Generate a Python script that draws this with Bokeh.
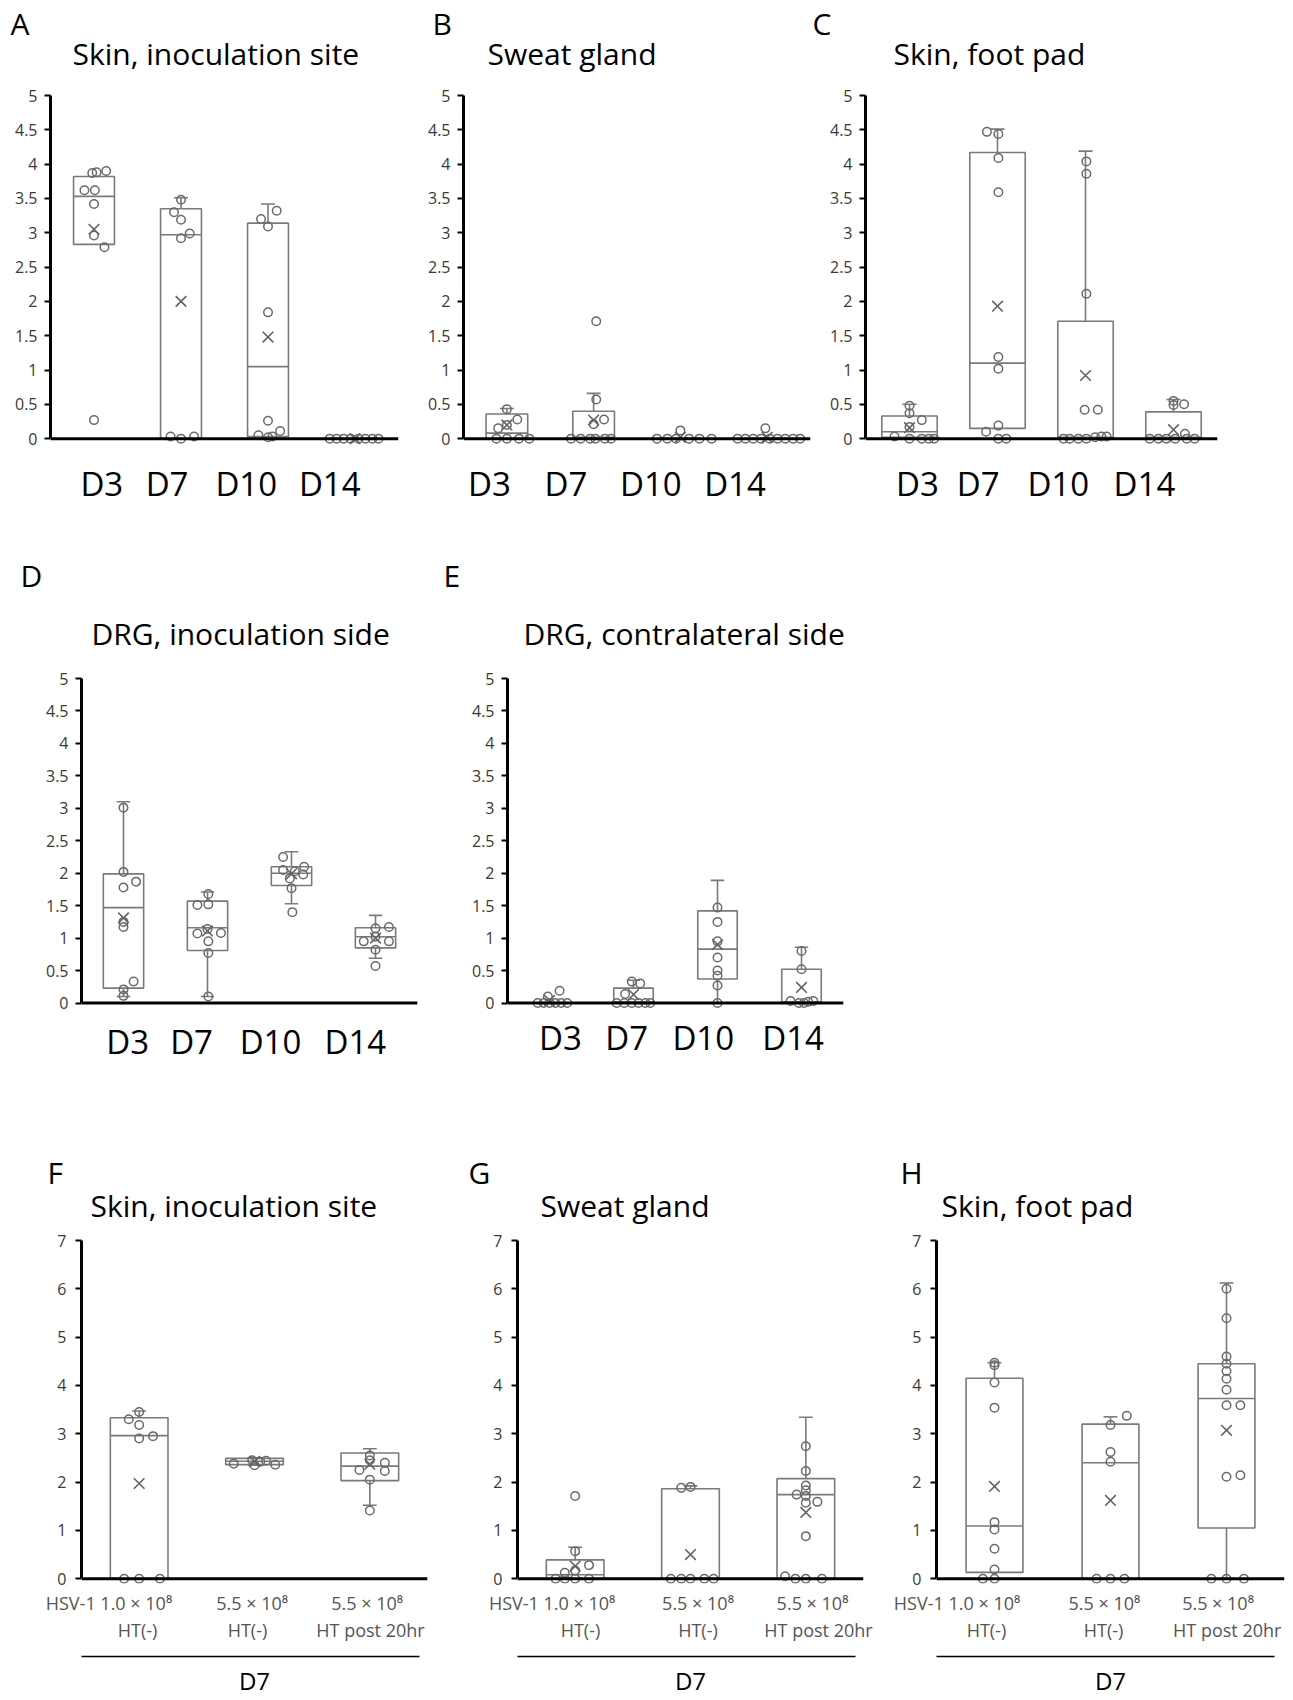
from bokeh.plotting import figure
from bokeh.models import (Range1d, LinearAxis, FixedTicker, SingleIntervalTicker,
                          NumeralTickFormatter, Span)
from bokeh.layouts import row, column
from bokeh.core.properties import value
from bokeh.embed import file_html
from bokeh.resources import INLINE

FONT = "Open Sans"
BOX = "#7a7a7a"
PT = "#6a6a6a"
MEAN = "#636363"
PAGE_W = 1293

# ------------------------------------------------------------------ data
days = ["D3", "D7", "D10", "D14"]
dose_line1 = ["HSV-1 1.0 \u00d7 10\u2078", "5.5 \u00d7 10\u2078", "5.5 \u00d7 10\u2078"]
dose_line2 = ["HT(-)", "HT(-)", "HT post 20hr"]
day_group = "D7"

titles = ["Skin, inoculation site", "Sweat gland", "Skin, foot pad",
          "DRG, inoculation side", "DRG, contralateral side",
          "Skin, inoculation site", "Sweat gland", "Skin, foot pad"]
letters = ["A", "B", "C", "D", "E", "F", "G", "H"]

# A  Skin, inoculation site
a_q1 = [2.83, 0.0, 0.03, 0.0]
a_med = [3.53, 2.97, 1.05, 0.0]
a_q3 = [3.82, 3.35, 3.14, 0.0]
a_wlo = [2.83, 0.0, 0.03, 0.0]
a_whi = [3.82, 3.51, 3.42, 0.0]
a_mean = [3.05, 2.0, 1.48, 0.0]
a_pts = [[3.87, 3.88, 3.90, 3.62, 3.62, 3.42, 2.96, 2.79, 0.27],
         [3.48, 3.30, 3.19, 2.99, 2.92, 0.03, 0.0, 0.03],
         [3.32, 3.20, 3.09, 1.84, 0.26, 0.11, 0.05, 0.02, 0.03],
         [0, 0, 0, 0, 0, 0, 0, 0]]
a_dx = [[-0.02, 0.03, 0.14, -0.11, 0.01, 0.0, 0.0, 0.12, 0.0],
        [0.0, -0.08, 0.0, 0.1, 0.0, -0.12, 0.0, 0.15],
        [0.1, -0.08, 0.0, 0.0, 0.0, 0.14, -0.11, 0.0, 0.05],
        [-0.29, -0.21, -0.13, -0.05, 0.04, 0.12, 0.2, 0.27]]

# B  Sweat gland
b_q1 = [0.0, 0.0, 0.0, 0.0]
b_med = [0.08, 0.02, 0.0, 0.0]
b_q3 = [0.36, 0.40, 0.0, 0.0]
b_wlo = [0.0, 0.0, 0.0, 0.0]
b_whi = [0.44, 0.66, 0.0, 0.0]
b_mean = [0.20, 0.27, 0.02, 0.02]
b_pts = [[0.43, 0.28, 0.20, 0.15, 0, 0, 0, 0],
         [1.71, 0.57, 0.28, 0.21, 0, 0, 0, 0, 0, 0],
         [0, 0, 0.12, 0, 0, 0, 0],
         [0, 0, 0, 0, 0.15, 0, 0, 0, 0, 0]]
b_dx = [[0.0, 0.12, 0.0, -0.1, -0.12, 0.0, 0.14, 0.26],
        [0.03, 0.03, 0.12, 0.0, -0.26, -0.15, -0.04, 0.02, 0.13, 0.2],
        [-0.27, -0.15, 0.0, -0.05, 0.1, 0.22, 0.36],
        [-0.34, -0.25, -0.16, -0.07, -0.02, 0.03, 0.12, 0.21, 0.3, 0.38]]

# C  Skin, foot pad
c_q1 = [0.02, 0.15, 0.0, 0.0]
c_med = [0.10, 1.10, 0.02, 0.02]
c_q3 = [0.33, 4.17, 1.71, 0.39]
c_wlo = [0.02, 0.15, 0.0, 0.0]
c_whi = [0.50, 4.51, 4.19, 0.57]
c_mean = [0.16, 1.93, 0.92, 0.13]
c_pts = [[0.48, 0.37, 0.27, 0.17, 0.03, 0, 0, 0, 0],
         [4.47, 4.44, 4.09, 3.59, 1.19, 1.02, 0.19, 0.10, 0.0, 0.0],
         [4.04, 3.86, 2.11, 0.42, 0.42, 0, 0, 0, 0, 0.02, 0.03, 0.03],
         [0.55, 0.50, 0.49, 0.07, 0, 0, 0, 0, 0, 0]]
c_dx = [[0.0, 0.0, 0.14, 0.0, -0.17, 0.0, 0.14, 0.22, 0.28],
        [-0.12, 0.01, 0.01, 0.01, 0.01, 0.01, 0.01, -0.13, 0.01, 0.1],
        [0.01, 0.01, 0.01, -0.01, 0.14, -0.25, -0.18, -0.08, 0.01, 0.11, 0.18, 0.24],
        [0.0, 0.12, 0.0, 0.13, -0.27, -0.17, -0.08, 0.02, 0.15, 0.24]]

# D  DRG, inoculation side
d_q1 = [0.23, 0.81, 1.81, 0.85]
d_med = [1.47, 1.16, 2.00, 1.02]
d_q3 = [1.99, 1.57, 2.10, 1.16]
d_wlo = [0.10, 0.10, 1.53, 0.69]
d_whi = [3.10, 1.71, 2.33, 1.35]
d_mean = [1.31, 1.11, 1.99, 1.00]
d_pts = [[3.01, 2.02, 1.87, 1.78, 1.25, 1.17, 0.33, 0.21, 0.11],
         [1.68, 1.51, 1.52, 1.07, 1.08, 1.14, 0.95, 0.77, 0.10],
         [2.25, 2.10, 2.05, 2.03, 1.98, 1.92, 1.77, 1.40],
         [1.17, 1.15, 1.02, 0.95, 0.95, 0.82, 0.57]]
d_dx = [[0, 0, 0.15, 0, 0, 0, 0.12, 0, 0],
        [0.01, -0.12, 0.01, -0.12, 0.16, 0.0, 0.01, 0.01, 0.01],
        [-0.1, 0.15, -0.1, 0.04, 0.14, -0.02, 0.0, 0.01],
        [0.16, 0, 0, -0.14, 0.16, 0, 0]]

# E  DRG, contralateral side
e_q1 = [0.0, 0.0, 0.37, 0.0]
e_med = [0.0, 0.02, 0.83, 0.02]
e_q3 = [0.0, 0.23, 1.42, 0.52]
e_wlo = [0.0, 0.0, 0.0, 0.0]
e_whi = [0.0, 0.35, 1.89, 0.86]
e_mean = [0.04, 0.13, 0.90, 0.24]
e_pts = [[0.19, 0.10, 0, 0, 0, 0, 0, 0],
         [0.33, 0.30, 0.14, 0, 0, 0, 0, 0, 0],
         [1.47, 1.25, 0.95, 0.70, 0.50, 0.42, 0.27, 0.0],
         [0.80, 0.52, 0.03, 0, 0, 0.02, 0.03]]
e_dx = [[0.12, -0.02, -0.14, -0.07, 0.0, 0.07, 0.14, 0.21],
        [-0.02, 0.08, -0.1, -0.2, -0.11, -0.02, 0.06, 0.14, 0.2],
        [0, 0, 0, 0, 0, 0, 0, 0],
        [0.0, 0.0, -0.13, -0.03, 0.03, 0.08, 0.14]]

# F  Skin, inoculation site (D7)
f_q1 = [0.0, 2.36, 2.03]
f_med = [2.96, 2.43, 2.33]
f_q3 = [3.33, 2.49, 2.60]
f_wlo = [0.0, 2.35, 1.52]
f_whi = [3.47, 2.50, 2.69]
f_mean = [1.97, 2.43, 2.37]
f_pts = [[3.45, 3.30, 3.18, 2.95, 2.90, 0, 0, 0],
         [2.45, 2.42, 2.38, 2.35, 2.36, 2.44],
         [2.55, 2.45, 2.25, 2.40, 2.23, 2.05, 1.41]]
f_dx = [[0.0, -0.09, 0.0, 0.12, 0.0, -0.13, 0.0, 0.18],
        [-0.02, 0.05, -0.18, 0.0, 0.18, 0.1],
        [0.0, 0.0, -0.09, 0.13, 0.13, 0.0, 0.0]]

# G  Sweat gland (D7)
g_q1 = [0.0, 0.0, 0.0]
g_med = [0.08, 0.0, 1.74]
g_q3 = [0.39, 1.86, 2.07]
g_wlo = [0.0, 0.0, 0.0]
g_whi = [0.65, 1.92, 3.34]
g_mean = [0.26, 0.50, 1.37]
g_pts = [[1.71, 0.57, 0.28, 0.17, 0.12, 0, 0, 0, 0],
         [1.88, 1.90, 0, 0, 0, 0, 0],
         [2.74, 2.23, 1.93, 1.83, 1.74, 1.71, 1.59, 1.57, 0.88, 0.05, 0, 0, 0]]
g_dx = [[0, 0, 0.12, 0, -0.09, -0.17, -0.09, 0.0, 0.12],
        [-0.08, 0.0, -0.17, -0.08, 0.0, 0.12, 0.2],
        [0, 0, 0, 0, -0.08, 0, 0.1, 0, 0, -0.18, -0.09, 0, 0.14]]

# H  Skin, foot pad (D7)
h_q1 = [0.13, 0.0, 1.05]
h_med = [1.09, 2.40, 3.73]
h_q3 = [4.15, 3.20, 4.45]
h_wlo = [0.13, 0.0, 0.0]
h_whi = [4.47, 3.35, 6.12]
h_mean = [1.91, 1.62, 3.07]
h_pts = [[4.47, 4.42, 4.06, 3.54, 1.17, 1.02, 0.62, 0.19, 0, 0],
         [3.37, 3.18, 2.62, 2.42, 0, 0, 0],
         [6.0, 5.39, 4.6, 4.45, 4.3, 4.14, 3.91, 3.59, 3.59, 2.11, 2.14, 0, 0, 0]]
h_dx = [[0, 0, 0, 0, 0, 0, 0, 0, -0.1, 0],
        [0.14, 0, 0, 0, -0.12, 0, 0.12],
        [0, 0, 0, 0, 0, 0, 0, 0, 0.12, 0, 0.12, -0.13, 0, 0.15]]


# ------------------------------------------------------------------ helpers
def geo(bl, fw, br, bt, fh, bb, xr, yr):
    return dict(bl=bl, fw=fw, br=br, bt=bt, fh=fh, bb=bb, xr=xr, yr=yr)


def header(y0, h, items):
    """A text-only strip (panel letters and titles), positioned in page pixels."""
    p = figure(width=PAGE_W, height=h, output_backend="svg", toolbar_location=None,
               x_range=Range1d(0, PAGE_W), y_range=Range1d(y0 + h, y0),
               x_axis_location=None, y_axis_location=None, min_border=0, title=None)
    p.outline_line_color = None
    p.grid.grid_line_color = None
    p.background_fill_color = "white"
    p.border_fill_color = "white"
    p.text(x=[it[0] for it in items], y=[it[1] for it in items],
           text=[it[2] for it in items], text_font=value(FONT), text_font_size="30px",
           text_color="black", text_align="left", text_baseline="middle")
    return p


def build(g, q1, med, q3, wlo, whi, mean, pts, dx, bw, cw, ystep, ystandoff):
    n = len(q1)
    p = figure(width=g["bl"] + g["fw"] + g["br"], height=g["bt"] + g["fh"] + g["bb"],
               output_backend="svg", toolbar_location=None, title=None,
               x_range=Range1d(*g["xr"]), y_range=Range1d(*g["yr"]),
               x_axis_location=None, y_axis_location=None,
               min_border_left=g["bl"], min_border_right=g["br"],
               min_border_top=g["bt"], min_border_bottom=g["bb"])
    p.outline_line_color = None
    p.grid.grid_line_color = None
    p.background_fill_color = "white"
    p.border_fill_color = "white"

    ymax = g["yr"][1]
    ya = LinearAxis(bounds=(0, ymax),
                    ticker=SingleIntervalTicker(interval=ystep, num_minor_ticks=0),
                    formatter=NumeralTickFormatter(format="0.[0]"))
    ya.axis_line_width = 3
    ya.axis_line_color = "black"
    ya.major_tick_in = 0
    ya.major_tick_out = 6
    ya.major_tick_line_width = 2
    ya.major_tick_line_color = "black"
    ya.minor_tick_line_color = None
    ya.major_label_text_font = FONT
    ya.major_label_text_font_size = "16px"
    ya.major_label_text_color = "#3a3a3a"
    ya.major_label_standoff = ystandoff
    p.add_layout(ya, "left")

    xs = list(range(1, n + 1))
    up = [(x, a, b) for x, a, b in zip(xs, q3, whi) if b > a + 1e-9]
    lo = [(x, a, b) for x, a, b in zip(xs, q1, wlo) if b < a - 1e-9]
    for seg in (up, lo):
        if seg:
            sx = [s[0] for s in seg]
            sa = [s[1] for s in seg]
            sb = [s[2] for s in seg]
            p.segment(x0=sx, y0=sa, x1=sx, y1=sb, line_color=BOX, line_width=1.6)
            p.segment(x0=[x - cw for x in sx], y0=sb, x1=[x + cw for x in sx], y1=sb,
                      line_color=BOX, line_width=1.6)
    p.quad(left=[x - bw / 2 for x in xs], right=[x + bw / 2 for x in xs],
           bottom=q1, top=q3, fill_color="white", line_color=BOX, line_width=1.6)
    p.segment(x0=[x - bw / 2 for x in xs], y0=med, x1=[x + bw / 2 for x in xs], y1=med,
              line_color=BOX, line_width=1.6)
    px_, py_ = [], []
    for i, (vals, ds) in enumerate(zip(pts, dx)):
        for v, d in zip(vals, ds):
            px_.append(xs[i] + d)
            py_.append(v)
    p.scatter(x=px_, y=py_, marker="circle", size=8.5, line_color=PT, fill_color=None,
              line_width=1.5)
    p.scatter(x=xs, y=mean, marker="x", size=15, line_color=MEAN, line_width=1.6)

    p.add_layout(Span(location=0, dimension="width", line_color="black", line_width=3))
    return p


def label_axis(p, positions, labels, size, color, standoff):
    pos = [round(v, 3) for v in positions]
    ax = LinearAxis(ticker=FixedTicker(ticks=pos),
                    major_label_overrides={k: t for k, t in zip(pos, labels)})
    ax.axis_line_color = None
    ax.major_tick_line_color = None
    ax.minor_tick_line_color = None
    ax.major_tick_in = 0
    ax.major_tick_out = 0
    ax.major_label_text_font = FONT
    ax.major_label_text_font_size = size
    ax.major_label_text_color = color
    ax.major_label_standoff = standoff
    p.add_layout(ax, "below")
    return ax


def day_axis(p, offsets, standoff):
    label_axis(p, [i + 1 + o for i, o in enumerate(offsets)], days, "33px", "black", standoff)


def dose_axes(p, off1, off2, bounds):
    label_axis(p, [i + 1 + o for i, o in enumerate(off1)], dose_line1, "18px", "#555555", 7)
    ax2 = label_axis(p, [i + 1 + o for i, o in enumerate(off2)], dose_line2, "18px", "#555555", 0)
    ax2.axis_label = "\u00a0"
    ax2.axis_label_standoff = 0
    ax2.axis_label_text_font_size = "8px"
    ax = LinearAxis(ticker=FixedTicker(ticks=[]), bounds=bounds, axis_label=day_group)
    ax.axis_line_color = "black"
    ax.axis_line_width = 1.5
    ax.major_tick_line_color = None
    ax.minor_tick_line_color = None
    ax.major_tick_in = 0
    ax.major_tick_out = 0
    ax.major_label_standoff = 0
    ax.axis_label_text_font = FONT
    ax.axis_label_text_font_size = "24px"
    ax.axis_label_text_font_style = "normal"
    ax.axis_label_text_color = "black"
    ax.axis_label_standoff = 7
    p.add_layout(ax, "below")


# ------------------------------------------------------------------ row 1
Y5 = (-0.1, 5)
pA = build(geo(50, 348, 23, 17, 350, 85, (0.5, 4.5), Y5), a_q1, a_med, a_q3, a_wlo, a_whi,
           a_mean, a_pts, a_dx, 0.47, 0.08, 0.5, 7)
day_axis(pA, [0.09, -0.16, -0.25, -0.29], 15)
pB = build(geo(42, 347, 5, 17, 350, 85, (0.5, 4.5), Y5), b_q1, b_med, b_q3, b_wlo, b_whi,
           b_mean, b_pts, b_dx, 0.48, 0.08, 0.5, 7)
day_axis(pB, [-0.2, -0.32, -0.34, -0.37], 15)
pC = build(geo(50, 352, 76, 17, 350, 85, (0.5, 4.5), Y5), c_q1, c_med, c_q3, c_wlo, c_whi,
           c_mean, c_pts, c_dx, 0.63, 0.08, 0.5, 7)
day_axis(pC, [0.09, -0.22, -0.31, -0.33], 15)

# ------------------------------------------------------------------ row 2
pD = build(geo(81, 336, 23, 15, 336, 83, (0.5, 4.5), Y5), d_q1, d_med, d_q3, d_wlo, d_whi,
           d_mean, d_pts, d_dx, 0.48, 0.08, 0.5, 7)
day_axis(pD, [0.05, -0.19, -0.25, -0.24], 9)
pE = build(geo(67, 336, 42, 20, 332, 82, (0.5, 4.5), Y5), e_q1, e_med, e_q3, e_wlo, e_whi,
           e_mean, e_pts, e_dx, 0.47, 0.08, 0.5, 7)
day_axis(pE, [0.13, -0.08, -0.17, -0.1], 5)

# ------------------------------------------------------------------ row 3
Y7 = (-0.1, 7)
pF = build(geo(81, 346, 13, 12, 343, 117, (0.5, 3.5), Y7), f_q1, f_med, f_q3, f_wlo, f_whi,
           f_mean, f_pts, f_dx, 0.5, 0.06, 1, 9)
dose_axes(pF, [-0.262, -0.02, -0.023], [-0.014, -0.061, 0.006], (0.44, 3.43))
pG = build(geo(77, 346, 22, 12, 343, 117, (0.5, 3.5), Y7), g_q1, g_med, g_q3, g_wlo, g_whi,
           g_mean, g_pts, g_dx, 0.5, 0.06, 1, 9)
dose_axes(pG, [-0.2, 0.065, 0.058], [0.046, 0.065, 0.11], (0.44, 3.43))
pH = build(geo(51, 348, 9, 12, 343, 117, (0.5, 3.5), Y7), h_q1, h_med, h_q3, h_wlo, h_whi,
           h_mean, h_pts, h_dx, 0.49, 0.06, 1, 9)
dose_axes(pH, [-0.323, -0.052, -0.073], [-0.069, -0.06, 0.006], (0.42, 3.41))

# ------------------------------------------------------------------ headers
h1 = header(0, 78, [(10, 23, letters[0]), (432, 23, letters[1]), (812, 23, letters[2]),
                    (72, 53, titles[0]), (487, 53, titles[1]), (893, 53, titles[2])])
h2 = header(530, 128, [(20, 575, letters[3]), (443, 575, letters[4]),
                       (91, 633, titles[3]), (523, 633, titles[4])])
h3 = header(1092, 136, [(47, 1172, letters[5]), (468, 1172, letters[6]), (900, 1172, letters[7]),
                        (90, 1205, titles[5]), (540, 1205, titles[6]), (941, 1205, titles[7])])

layout = column(h1, row(pA, pB, pC, spacing=0),
                h2, row(pD, pE, spacing=0),
                h3, row(pF, pG, pH, spacing=0), spacing=0)

open("out.html", "w").write(file_html(layout, INLINE))
